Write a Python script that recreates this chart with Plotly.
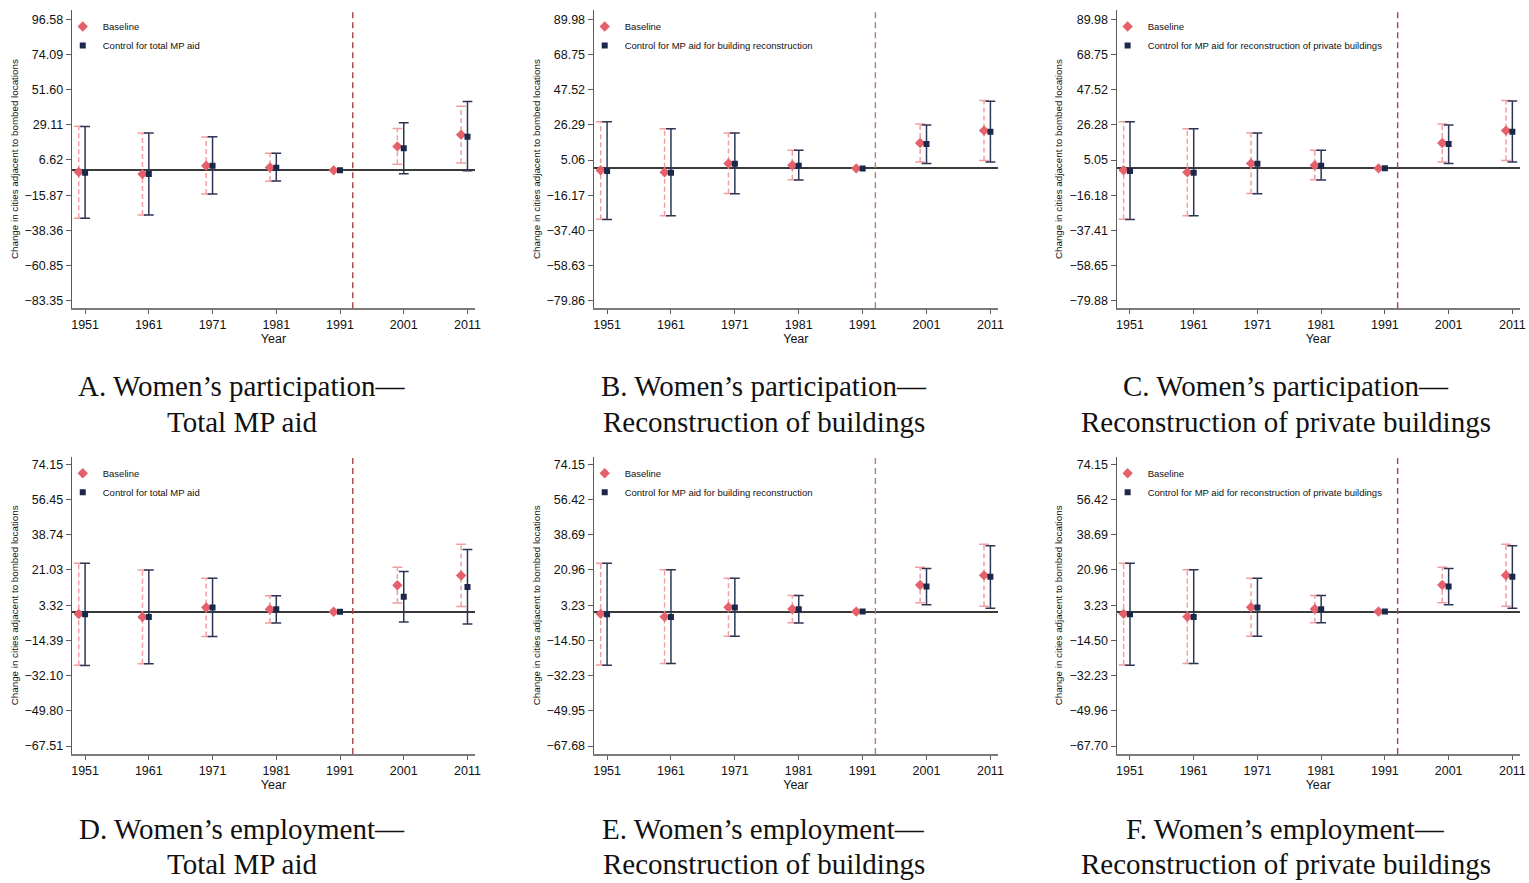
import plotly.graph_objects as go

W, H = 1529, 883

years = [1951, 1961, 1971, 1981, 1991, 2001, 2011]

# ---- Women's participation: baseline (common to panels A-C)
part_base_est = [-1.1, -2.4, 3.0, 1.85, 0.0, 15.3, 22.8]
part_base_lo = [-30.7, -28.6, -15.2, -6.9, None, 3.9, 4.7]
part_base_hi = [28.2, 23.9, 21.4, 10.9, None, 26.8, 41.0]

# Panel A control: total MP aid
partA_ctrl_est = [-1.5, -2.4, 3.0, 1.7, 0.0, 14.1, 21.5]
partA_ctrl_lo = [-30.7, -28.6, -15.1, -6.8, None, -2.1, -0.2]
partA_ctrl_hi = [28.1, 23.9, 21.5, 10.9, None, 30.5, 44.1]

# Panel B control: MP aid for building reconstruction
partB_ctrl_est = [-1.6, -2.6, 2.8, 1.6, 0.0, 14.7, 22.1]
partB_ctrl_lo = [-30.8, -28.6, -15.3, -7.0, None, 3.0, 3.8]
partB_ctrl_hi = [28.2, 23.9, 21.3, 10.9, None, 26.2, 40.6]

# Panel C control: MP aid for reconstruction of private buildings
partC_ctrl_est = [-1.6, -2.6, 2.8, 1.6, 0.0, 14.7, 22.1]
partC_ctrl_lo = [-30.8, -28.6, -15.3, -7.0, None, 3.0, 3.8]
partC_ctrl_hi = [28.2, 23.9, 21.3, 10.9, None, 26.2, 40.6]

# ---- Women's employment: baseline (common to panels D-F)
emp_base_est = [-1.15, -2.65, 2.15, 1.25, 0.0, 13.35, 18.25]
emp_base_lo = [-26.95, -26.15, -12.45, -5.65, None, 4.4, 2.65]
emp_base_hi = [24.35, 21.0, 16.8, 8.1, None, 22.35, 33.9]

empD_ctrl_est = [-1.3, -2.6, 2.1, 1.25, 0.0, 7.5, 12.5]
empD_ctrl_lo = [-27.0, -26.1, -12.5, -5.6, None, -5.1, -6.1]
empD_ctrl_hi = [24.4, 21.0, 16.8, 8.1, None, 20.2, 31.3]

empE_ctrl_est = [-1.3, -2.7, 2.0, 1.2, 0.0, 12.6, 17.5]
empE_ctrl_lo = [-27.0, -26.2, -12.4, -5.7, None, 3.4, 1.7]
empE_ctrl_hi = [24.3, 21.0, 16.8, 8.1, None, 21.7, 33.1]

empF_ctrl_est = [-1.3, -2.7, 2.0, 1.2, 0.0, 12.6, 17.5]
empF_ctrl_lo = [-27.0, -26.2, -12.4, -5.7, None, 3.4, 1.7]
empF_ctrl_hi = [24.3, 21.0, 16.8, 8.1, None, 21.7, 33.1]

# ---- y tick labels
ticksA = [96.58, 74.09, 51.60, 29.11, 6.62, -15.87, -38.36, -60.85, -83.35]
ticksB = [89.98, 68.75, 47.52, 26.29, 5.06, -16.17, -37.40, -58.63, -79.86]
ticksC = [89.98, 68.75, 47.52, 26.28, 5.05, -16.18, -37.41, -58.65, -79.88]
ticksD = [74.15, 56.45, 38.74, 21.03, 3.32, -14.39, -32.10, -49.80, -67.51]
ticksE = [74.15, 56.42, 38.69, 20.96, 3.23, -14.50, -32.23, -49.95, -67.68]
ticksF = [74.15, 56.42, 38.69, 20.96, 3.23, -14.50, -32.23, -49.96, -67.70]

reform_year = 1993

captions = [
    ("A. Women\u2019s participation\u2014", "Total MP aid"),
    ("B. Women\u2019s participation\u2014", "Reconstruction of buildings"),
    ("C. Women\u2019s participation\u2014", "Reconstruction of private buildings"),
    ("D. Women\u2019s employment\u2014", "Total MP aid"),
    ("E. Women\u2019s employment\u2014", "Reconstruction of buildings"),
    ("F. Women\u2019s employment\u2014", "Reconstruction of private buildings"),
]
ctrl_labels = [
    "Control for total MP aid",
    "Control for MP aid for building reconstruction",
    "Control for MP aid for reconstruction of private buildings",
] * 2

panels = [
    (part_base_est, part_base_lo, part_base_hi, partA_ctrl_est, partA_ctrl_lo, partA_ctrl_hi, ticksA),
    (part_base_est, part_base_lo, part_base_hi, partB_ctrl_est, partB_ctrl_lo, partB_ctrl_hi, ticksB),
    (part_base_est, part_base_lo, part_base_hi, partC_ctrl_est, partC_ctrl_lo, partC_ctrl_hi, ticksC),
    (emp_base_est, emp_base_lo, emp_base_hi, empD_ctrl_est, empD_ctrl_lo, empD_ctrl_hi, ticksD),
    (emp_base_est, emp_base_lo, emp_base_hi, empE_ctrl_est, empE_ctrl_lo, empE_ctrl_hi, ticksE),
    (emp_base_est, emp_base_lo, emp_base_hi, empF_ctrl_est, empF_ctrl_lo, empF_ctrl_hi, ticksF),
]

# ---- styling / layout geometry (pixels)
BASE_COL = "#e6606a"
BASE_CI = "#f19ea4"
CTRL_COL = "#1b2849"
CTRL_CI = "#2c3654"
VLINE_COLS = ["#a54444", "#b57a7a", "#a54444", "#a54444", "#b57a7a", "#a54444"]
AXIS_COL = "#5c5c5c"
SANS = "Liberation Sans, Arial, sans-serif"
SERIF = "Liberation Serif, Times New Roman, serif"

col_px = [(72, 477), (596, 1002), (1121, 1526)]
row_px = [(10, 308.3, 19.33, 300.67), (456.7, 754, 464.3, 746)]  # top, bottom, top tick, bottom tick
cap_cx = [243, 767, 1291]
cap_rows = [(386, 422), (829, 864)]
XR = [1948.9, 2012.2]


def px(x):
    return x / W


def py(y):
    return 1 - y / H


def ci_segments(xs, lo, hi):
    sx, sy = [], []
    for x, l, h in zip(xs, lo, hi):
        if l is None or h is None:
            continue
        sx += [x, x, None]
        sy += [l, h, None]
    return sx, sy


def cap_points(xs, lo, hi):
    cx, cy = [], []
    for x, l, h in zip(xs, lo, hi):
        if l is None or h is None:
            continue
        cx += [x, x]
        cy += [l, h]
    return cx, cy


fig = go.Figure()
shapes = []
annotations = []
layout_axes = {}

for i, (b_est, b_lo, b_hi, c_est, c_lo, c_hi, ticks) in enumerate(panels):
    n = i + 1
    r, c = divmod(i, 3)
    xa = "x" if n == 1 else f"x{n}"
    ya = "y" if n == 1 else f"y{n}"
    leg = "legend" if n == 1 else f"legend{n}"

    bx = [y - 1 for y in years]
    cxs = list(years)

    # baseline CI (dashed)
    sx, sy = ci_segments(bx, b_lo, b_hi)
    fig.add_trace(go.Scatter(x=sx, y=sy, mode="lines", xaxis=xa, yaxis=ya,
                             line=dict(color=BASE_CI, width=1.5, dash="5px,3px"),
                             showlegend=False, hoverinfo="skip"))
    kx, ky = cap_points(bx, b_lo, b_hi)
    fig.add_trace(go.Scatter(x=kx, y=ky, mode="markers", xaxis=xa, yaxis=ya,
                             marker=dict(symbol="line-ew", size=7,
                                         line=dict(color=BASE_CI, width=1.5)),
                             showlegend=False, hoverinfo="skip"))
    # control CI (solid)
    sx, sy = ci_segments(cxs, c_lo, c_hi)
    fig.add_trace(go.Scatter(x=sx, y=sy, mode="lines", xaxis=xa, yaxis=ya,
                             line=dict(color=CTRL_CI, width=1.5),
                             showlegend=False, hoverinfo="skip"))
    kx, ky = cap_points(cxs, c_lo, c_hi)
    fig.add_trace(go.Scatter(x=kx, y=ky, mode="markers", xaxis=xa, yaxis=ya,
                             marker=dict(symbol="line-ew", size=7,
                                         line=dict(color=CTRL_CI, width=1.5)),
                             showlegend=False, hoverinfo="skip"))
    # point estimates
    fig.add_trace(go.Scatter(x=bx, y=b_est, mode="markers", xaxis=xa, yaxis=ya,
                             name="Baseline", legend=leg,
                             marker=dict(symbol="diamond", size=8, color=BASE_COL)))
    fig.add_trace(go.Scatter(x=cxs, y=c_est, mode="markers", xaxis=xa, yaxis=ya,
                             name=ctrl_labels[i], legend=leg,
                             marker=dict(symbol="square", size=6, color=CTRL_COL)))

    top, bot, ttop, tbot = row_px[r]
    tmax, tmin = max(ticks), min(ticks)
    span = tmax - tmin
    y_lo = tmin - (bot - tbot) / (tbot - ttop) * span
    y_hi = tmax + (ttop - top) / (tbot - ttop) * span
    x0p, x1p = col_px[c]

    layout_axes["xaxis" if n == 1 else f"xaxis{n}"] = dict(
        domain=[px(x0p), px(x1p)], anchor=ya, range=XR,
        tickvals=years, ticktext=[str(y) for y in years],
        ticks="outside", ticklen=4, tickwidth=1, tickcolor=AXIS_COL,
        showline=True, linecolor="#7a7a7a", linewidth=1.5,
        showgrid=False, zeroline=False,
        tickfont=dict(family=SANS, size=12.5, color="#111"),
        title=dict(text="Year", font=dict(family=SANS, size=12.5, color="#111"), standoff=0),
    )
    layout_axes["yaxis" if n == 1 else f"yaxis{n}"] = dict(
        domain=[py(bot), py(top)], anchor=xa, range=[y_lo, y_hi],
        tickvals=ticks, tickformat=".2f",
        ticks="outside", ticklen=5, tickwidth=1, tickcolor=AXIS_COL,
        showline=True, linecolor=AXIS_COL, linewidth=1.2,
        showgrid=False, zeroline=True, zerolinecolor="#3a3a3a", zerolinewidth=1.5,
        tickfont=dict(family=SANS, size=12.5, color="#111"),
        title=dict(text="Change in cities adjacent to bombed locations",
                   font=dict(family=SANS, size=9.8, color="#111"), standoff=4),
    )

    shapes.append(dict(type="line", xref=xa, yref=f"{ya} domain",
                       x0=reform_year, x1=reform_year, y0=0, y1=1,
                       line=dict(color=VLINE_COLS[i], width=1.4, dash="6px,4px")))

    layout_axes[leg] = dict(
        x=px(x0p - 9), y=py(top + 2), xanchor="left", yanchor="top",
        bgcolor="rgba(0,0,0,0)", borderwidth=0,
        font=dict(family=SANS, size=9.5, color="#111"),
        itemwidth=30, tracegroupgap=0,
    )

    l1, l2 = captions[i]
    y1, y2 = cap_rows[r]
    for txt, yy in ((l1, y1), (l2, y2)):
        annotations.append(dict(text=txt, x=px(cap_cx[c]), y=py(yy), xref="paper", yref="paper",
                                xanchor="center", yanchor="middle", showarrow=False,
                                font=dict(family=SERIF, size=29, color="#111")))

fig.update_layout(
    width=W, height=H, autosize=False,
    margin=dict(l=0, r=0, t=0, b=0),
    paper_bgcolor="white", plot_bgcolor="white",
    shapes=shapes, annotations=annotations,
    **layout_axes,
)

fig.write_html("out.html", config={"displayModeBar": False},
               post_script="document.body.style.margin='0';")
